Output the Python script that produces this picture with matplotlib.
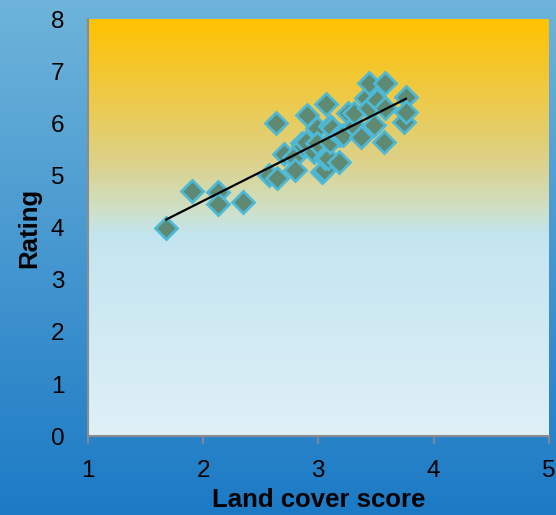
import numpy as np
import matplotlib
matplotlib.use("Agg")
import matplotlib.pyplot as plt
from matplotlib.colors import LinearSegmentedColormap

plt.rcParams['font.family'] = ['Liberation Sans', 'DejaVu Sans']

# Land cover score vs. rating
land_cover = [1.68, 1.90, 2.13, 2.13, 2.35, 2.57, 2.63, 2.64, 2.70, 2.79,
              2.80, 2.86, 2.87, 2.89, 2.90, 2.96, 2.99, 2.99, 3.03, 3.05,
              3.06, 3.07, 3.08, 3.10, 3.10, 3.12, 3.18, 3.19, 3.21, 3.26,
              3.31, 3.31, 3.37, 3.41, 3.44, 3.44, 3.48, 3.51, 3.57, 3.58,
              3.58, 3.74, 3.76, 3.76]
rating = [4.00, 4.70, 4.68, 4.45, 4.50, 5.01, 6.00, 4.95, 5.42, 5.36,
          5.10, 5.62, 5.56, 5.65, 6.16, 5.45, 5.91, 5.62, 5.07, 5.10,
          5.33, 6.38, 5.33, 5.65, 5.94, 5.91, 5.25, 5.78, 5.78, 6.19,
          5.94, 6.19, 5.74, 6.48, 6.77, 6.30, 5.96, 6.45, 5.65, 6.77,
          6.29, 6.03, 6.51, 6.22]

x_ticks = [1, 2, 3, 4, 5]
y_ticks = [0, 1, 2, 3, 4, 5, 6, 7, 8]

fig = plt.figure(figsize=(5.56, 5.15), dpi=100)

# figure background: vertical blue gradient
bg = fig.add_axes([0, 0, 1, 1], zorder=-10)
bg_cmap = LinearSegmentedColormap.from_list("bg", ["#1c7ac5", "#6eb4da"])
bg.imshow(np.linspace(0, 1, 256).reshape(-1, 1), cmap=bg_cmap, aspect="auto",
          origin="lower", extent=[0, 1, 0, 1])
bg.set_axis_off()

ax = fig.add_axes([0.158, 0.153, 0.829, 0.810])
ax.patch.set_alpha(0)

# plot area: gold at top fading to pale blue
pa_cmap = LinearSegmentedColormap.from_list(
    "pa",
    [(0.0, "#dff0f7"), (0.48, "#c3e5f0"), (0.55, "#cfdfc2"),
     (0.65, "#dcd28c"), (0.80, "#ecca4c"), (1.0, "#ffc200")])
ax.imshow(np.linspace(0, 1, 256).reshape(-1, 1), cmap=pa_cmap, aspect="auto",
          origin="lower", extent=[1, 5, 0, 8], zorder=0)

ax.plot(land_cover, rating, linestyle="none", marker="D", markersize=11,
        markerfacecolor="#5e8a74", markeredgecolor="#4db9d6",
        markeredgewidth=2, zorder=3)

# linear trend line
coef = np.polyfit(land_cover, rating, 1)
xs = np.array([min(land_cover), max(land_cover)])
ax.plot(xs, np.polyval(coef, xs), color="black", linewidth=1.6, zorder=4)

ax.set_xlim(1, 5)
ax.set_ylim(0, 8)
ax.set_xticks(x_ticks)
ax.set_yticks(y_ticks)
ax.tick_params(axis="x", length=6, width=1.2, color="#8c8c8c", labelsize=17.5, pad=11)
ax.tick_params(axis="y", length=0, labelsize=17.5, pad=17)
for s in ("top", "right"):
    ax.spines[s].set_visible(False)
for s in ("left", "bottom"):
    ax.spines[s].set_color("#8c8c8c")
    ax.spines[s].set_linewidth(1.5)

ax.set_xlabel("Land cover score", fontsize=18.5, fontweight="bold", labelpad=4.5)
ax.set_ylabel("Rating", fontsize=18.5, fontweight="bold", labelpad=7)

fig.savefig("out.png", dpi=100)
